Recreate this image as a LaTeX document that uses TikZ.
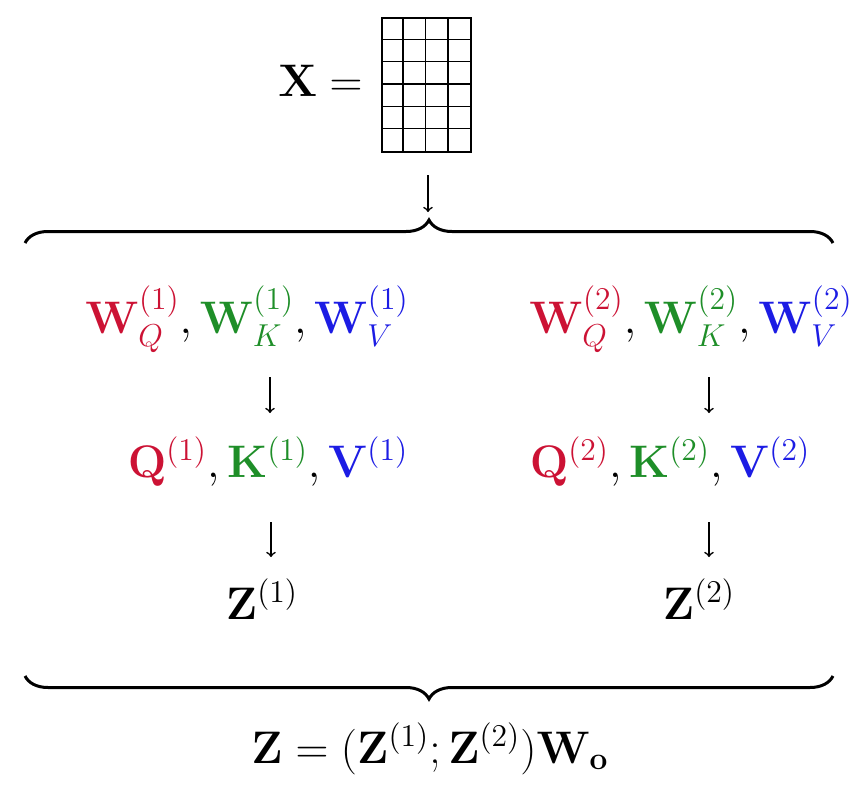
\documentclass[tikz,border=0pt]{standalone}
\usepackage{amsmath,amssymb,amsfonts}
\usepackage{tikz}
\usepackage{xcolor}
\usetikzlibrary{decorations.pathreplacing}

\definecolor{qred}{RGB}{204,18,52}
\definecolor{kgreen}{RGB}{30,142,40}
\definecolor{vblue}{RGB}{28,28,228}

\newcommand{\qcol}[1]{\textcolor{qred}{#1}}
\newcommand{\kcol}[1]{\textcolor{kgreen}{#1}}
\newcommand{\vcol}[1]{\textcolor{vblue}{#1}}

\tikzset{
  bigbrace/.style={decorate,decoration={brace,amplitude=11.5pt},line width=1.5pt},
  flow/.style={->,line width=0.8pt},
  term/.style={font=\huge,inner sep=0pt,scale=1.1,anchor=base}
}

\begin{document}
\begin{tikzpicture}[x=0.5pt,y=-0.5pt]
  \useasboundingbox (0,0) rectangle (858,798);
  \node[term,anchor=base east] (xeq) at (363,96) {$\mathbf{X} =$};
  \node[draw,line width=0.8pt,inner sep=0pt,anchor=north west,minimum width=44.5pt,minimum height=67pt] (xmat) at (381,17) {};
  \foreach \c in {1,2,3} \draw[line width=0.8pt] (381+\c*22.25,17) -- (381+\c*22.25,151);
  \foreach \r in {1,...,5} \draw[line width=0.8pt] (381,17+\r*22.33) -- (470,17+\r*22.33);

  \coordinate (xa) at (428,175); \coordinate (xb) at (428,212);
  \draw[flow] (xa) -- (xb);

  \coordinate (tl) at (25,243); \coordinate (tr) at (833,243);
  \draw[bigbrace] (tl) -- (tr);

  \node[term] (w1) at (247,333) {$\qcol{\mathbf{W}_Q^{(1)}}, \kcol{\mathbf{W}_K^{(1)}}, \vcol{\mathbf{W}_V^{(1)}}$};
  \node[term] (w2) at (691,333) {$\qcol{\mathbf{W}_Q^{(2)}}, \kcol{\mathbf{W}_K^{(2)}}, \vcol{\mathbf{W}_V^{(2)}}$};

  \coordinate (l1a) at (270,377); \coordinate (l1b) at (270,413);
  \coordinate (r1a) at (709,377); \coordinate (r1b) at (709,413);
  \draw[flow] (l1a) -- (l1b); \draw[flow] (r1a) -- (r1b);

  \node[term] (qkv1) at (268,477) {$\qcol{\mathbf{Q}^{(1)}}, \kcol{\mathbf{K}^{(1)}}, \vcol{\mathbf{V}^{(1)}}$};
  \node[term] (qkv2) at (670,477) {$\qcol{\mathbf{Q}^{(2)}}, \kcol{\mathbf{K}^{(2)}}, \vcol{\mathbf{V}^{(2)}}$};

  \coordinate (l2a) at (271,522); \coordinate (l2b) at (271,557);
  \coordinate (r2a) at (709,522); \coordinate (r2b) at (709,557);
  \draw[flow] (l2a) -- (l2b); \draw[flow] (r2a) -- (r2b);

  \node[term] (z1) at (262,619) {$\mathbf{Z}^{(1)}$};
  \node[term] (z2) at (699,619) {$\mathbf{Z}^{(2)}$};

  \coordinate (bl) at (25,676); \coordinate (br) at (833,676);
  \draw[bigbrace] (br) -- (bl);

  \node[term] (zout) at (430,763) {$\mathbf{Z} = (\mathbf{Z}^{(1)}; \mathbf{Z}^{(2)})\mathbf{W}_{\mathbf{o}}$};
\end{tikzpicture}
\end{document}
